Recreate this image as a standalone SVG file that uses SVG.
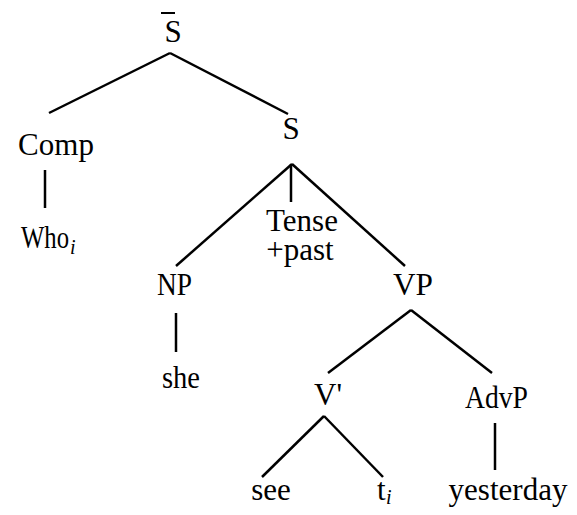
<svg xmlns="http://www.w3.org/2000/svg" width="577" height="515" viewBox="0 0 577 515">
  <style>
    .lbl { font-size: 31px; fill: #000; text-anchor: middle; }
    .sub { font-size: 20px; font-style: italic; fill: #000; }
    .edge { stroke: #000; stroke-width: 2.5; fill: none; stroke-linecap: butt; }
  </style>
  <rect width="577" height="515" fill="#fff"/>

  <!-- tree branches -->
  <g id="connectors">
    <line class="edge" x1="170" y1="53" x2="49" y2="113"/>
    <line class="edge" x1="170" y1="53" x2="288" y2="114"/>
    <line class="edge" x1="45" y1="170" x2="45" y2="208"/>
    <line class="edge" x1="292" y1="164" x2="176" y2="266"/>
    <line class="edge" x1="291" y1="164" x2="291" y2="202"/>
    <line class="edge" x1="292" y1="164" x2="405" y2="266"/>
    <line class="edge" x1="176" y1="313" x2="176" y2="352"/>
    <line class="edge" x1="411" y1="310" x2="328" y2="373"/>
    <line class="edge" x1="411" y1="310" x2="492" y2="373"/>
    <line class="edge" x1="324" y1="416" x2="262" y2="477"/>
    <line class="edge" x1="324" y1="416" x2="383" y2="477"/>
    <line class="edge" x1="495" y1="423" x2="495" y2="470"/>
  </g>

  <!-- nodes (condensed labels are fitted with textLength) -->
  <g font-family="Liberation Serif, Tinos, Times New Roman, serif">
    <g id="sbar">
      <text class="lbl" x="173" y="42">S</text>
      <line x1="161" y1="13" x2="175" y2="13" stroke="#000" stroke-width="2"/>
    </g>
    <g id="comp"><text class="lbl" x="56" y="155">Comp</text></g>
    <g id="who">
      <text class="lbl" x="21" y="248" style="text-anchor:start" textLength="48" lengthAdjust="spacingAndGlyphs">Who</text>
      <text class="sub" x="70" y="254">i</text>
    </g>
    <g id="s"><text class="lbl" x="291" y="139">S</text></g>
    <g id="tense">
      <text class="lbl" x="302" y="231">Tense</text>
      <text class="lbl" x="300" y="260">+past</text>
    </g>
    <g id="np"><text class="lbl" x="157" y="295" style="text-anchor:start" textLength="35" lengthAdjust="spacingAndGlyphs">NP</text></g>
    <g id="she"><text class="lbl" x="162" y="388" style="text-anchor:start" textLength="38" lengthAdjust="spacingAndGlyphs">she</text></g>
    <g id="vp"><text class="lbl" x="393" y="295" style="text-anchor:start" textLength="40" lengthAdjust="spacingAndGlyphs">VP</text></g>
    <g id="vbar"><text class="lbl" x="328" y="405">V'</text></g>
    <g id="advp"><text class="lbl" x="465" y="408" style="text-anchor:start" textLength="63" lengthAdjust="spacingAndGlyphs">AdvP</text></g>
    <g id="see"><text class="lbl" x="271" y="500">see</text></g>
    <g id="trace">
      <text class="lbl" x="377" y="500" style="text-anchor:start">t</text>
      <text class="sub" x="386" y="504">i</text>
    </g>
    <g id="yesterday"><text class="lbl" x="508" y="500">yesterday</text></g>
  </g>
</svg>
